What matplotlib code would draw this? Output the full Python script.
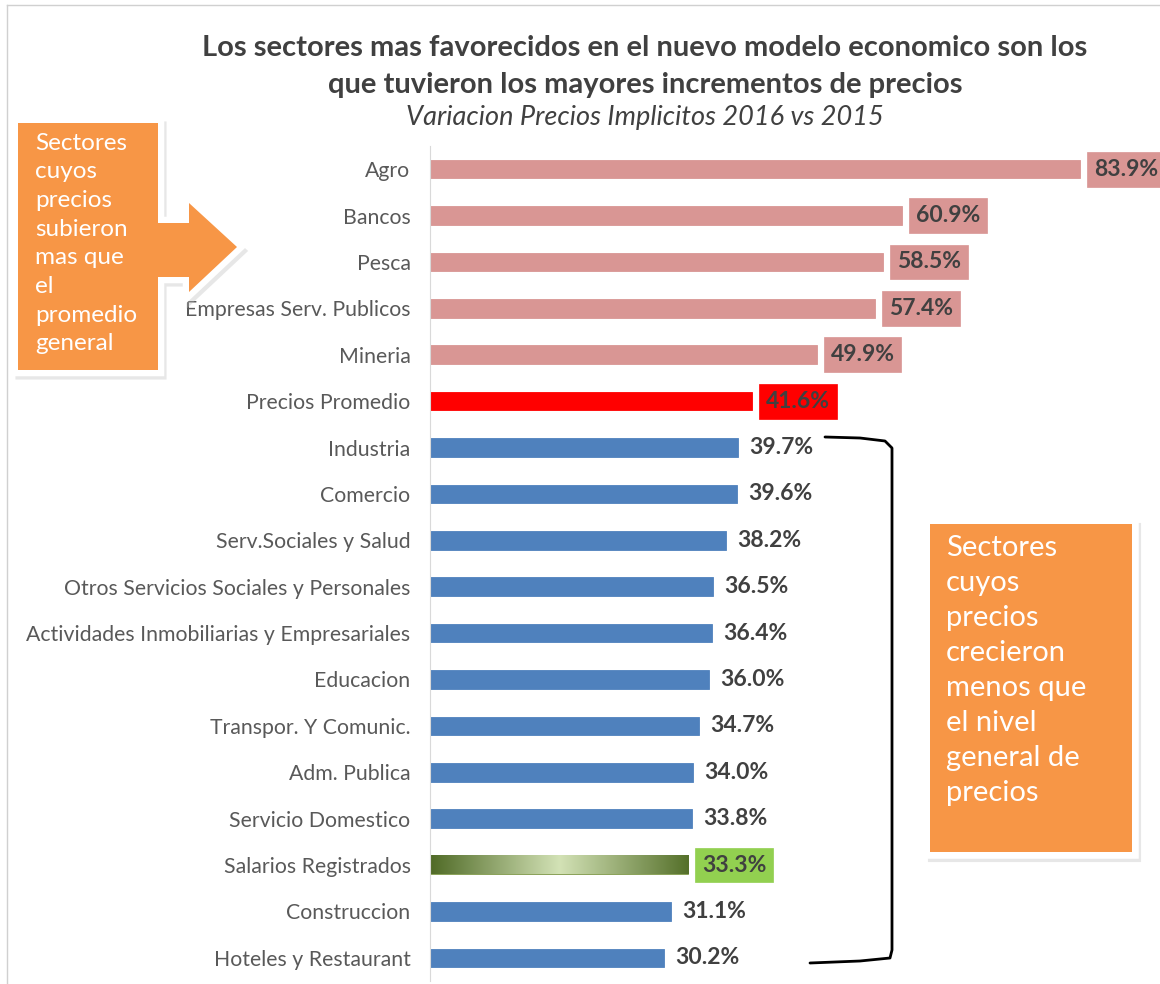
import matplotlib.pyplot as plt
import numpy as np
from matplotlib.colors import LinearSegmentedColormap
from matplotlib.patches import Polygon

plt.rcParams['font.family'] = ['Lato', 'DejaVu Sans']

sectores = ["Agro", "Bancos", "Pesca", "Empresas Serv. Publicos", "Mineria",
            "Precios Promedio", "Industria", "Comercio", "Serv.Sociales y Salud",
            "Otros Servicios Sociales y Personales",
            "Actividades Inmobiliarias y Empresariales", "Educacion",
            "Transpor. Y Comunic.", "Adm. Publica", "Servicio Domestico",
            "Salarios Registrados", "Construccion", "Hoteles y Restaurant"]
variacion = [83.9, 60.9, 58.5, 57.4, 49.9, 41.6, 39.7, 39.6, 38.2, 36.5,
             36.4, 36.0, 34.7, 34.0, 33.8, 33.3, 31.1, 30.2]
grupo = ["alto"] * 5 + ["promedio"] + ["bajo"] * 9 + ["salario"] + ["bajo"] * 2

colores = {"alto": "#D99694", "promedio": "#FF0000", "bajo": "#4F81BD", "salario": "#76923C"}
caja = {"alto": "#D99694", "promedio": "#FF0000", "salario": "#92D050"}
gris = "#404040"
naranja = "#F79646"

W, H = 1160, 984
fig = plt.figure(figsize=(W / 100, H / 100), dpi=100)
ax = fig.add_axes([430 / W, 1 - 981 / H, 730 / W, (981 - 146) / H])

y = np.arange(len(sectores))
barras = ax.barh(y, variacion, height=0.4,
                 color=[colores[g] for g in grupo],
                 edgecolor=[colores[g] for g in grupo], linewidth=0.6)
ax.set_yticks(y)
ax.set_yticklabels(sectores, fontsize=15.3, color="#595959")
ax.tick_params(axis="y", length=0, pad=14)
ax.set_xticks([])
for s in ["top", "right", "bottom"]:
    ax.spines[s].set_visible(False)
ax.spines["left"].set_color("#d9d9d9")

# barra con degradado
cmap = LinearSegmentedColormap.from_list("verde", ["#4F6A26", "#D3E2B6", "#55702A"])
for b, g in zip(barras, grupo):
    if g == "salario":
        x0, y0, w, h = b.get_x(), b.get_y(), b.get_width(), b.get_height()
        b.set_facecolor("none")
        ax.imshow(np.linspace(0, 1, 256).reshape(1, -1), cmap=cmap, aspect="auto",
                  extent=[x0, x0 + w, y0 + h, y0], zorder=2)
ax.set_xlim(0, 94.2)
ax.set_ylim(len(sectores) - 0.5, -0.5)

for yi, v, g in zip(y, variacion, grupo):
    if g in caja:
        ax.annotate(f"{v:.1f}%", (v, yi), xytext=(10, 0), textcoords="offset points",
                    va="center", ha="left", fontsize=16.5, fontweight="bold", color=gris,
                    bbox=dict(boxstyle="square,pad=0.3", fc=caja[g], ec=caja[g], lw=0.5),
                    zorder=5)
    else:
        ax.annotate(f"{v:.1f}%", (v, yi), xytext=(8, 0), textcoords="offset points",
                    va="center", ha="left", fontsize=16.5, fontweight="bold", color=gris)

# titulos
fig.text(645 / W, 1 - 48 / H, "Los sectores mas favorecidos en el nuevo modelo economico son los",
         ha="center", va="center", fontsize=21, fontweight="bold", color=gris)
fig.text(645 / W, 1 - 85 / H, "que tuvieron los mayores incrementos de precios",
         ha="center", va="center", fontsize=21, fontweight="bold", color=gris)
fig.text(645 / W, 1 - 118 / H, "Variacion Precios Implicitos 2016 vs 2015",
         ha="center", va="center", fontsize=19.5, style="italic", color=gris)

# capa de anotaciones en pixeles
ov = fig.add_axes([0, 0, 1, 1], zorder=10)
ov.set_xlim(0, W)
ov.set_ylim(H, 0)
ov.axis("off")
ov.patch.set_alpha(0)

ov.plot([7, 7], [5, H], color="#d0d0d0", lw=1)
ov.plot([7, W], [5, 5], color="#d0d0d0", lw=1)


def callout(pts):
    sombra = [(px + 3, py + 4) for px, py in pts]
    ov.add_patch(Polygon(sombra, closed=True, fc="#9a9a9a", ec="#bbbbbb", lw=8,
                         alpha=0.35, joinstyle="miter"))
    ov.add_patch(Polygon(pts, closed=True, fc=naranja, ec="white", lw=9, joinstyle="miter"))
    ov.add_patch(Polygon(pts, closed=True, fc=naranja, ec="none"))


callout([(18, 123), (158, 123), (158, 223), (189, 223), (189, 203), (237, 247),
         (189, 292), (189, 277), (158, 277), (158, 370), (18, 370)])
callout([(930, 524), (1132, 524), (1132, 852), (930, 852)])

lineas_izq = ["Sectores", "cuyos", "precios", "subieron", "mas que", "el", "promedio", "general"]
for i, t in enumerate(lineas_izq):
    ov.text(35, 143 + i * 28.7, t, color="white", fontsize=17.5, va="center", ha="left")

lineas_der = ["Sectores", "cuyos", "precios", "crecieron", "menos que", "el nivel",
              "general de", "precios"]
for i, t in enumerate(lineas_der):
    ov.text(946, 548 + i * 35, t, color="white", fontsize=21, va="center", ha="left")

# llave
bx = [825, 860, 885, 892, 892, 890, 860, 810]
by = [437, 438, 441, 448, 950, 958, 961, 963]
ov.plot(bx, by, color="black", lw=2, solid_capstyle="round")

fig.savefig("out.png", dpi=100)
